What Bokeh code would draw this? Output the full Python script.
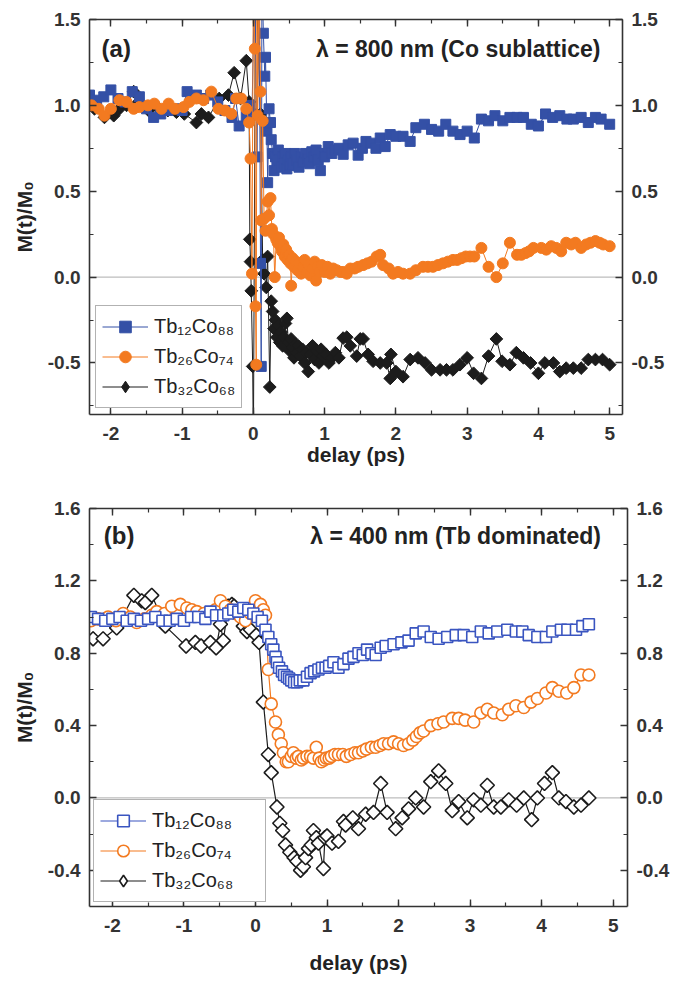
import math
from bokeh.plotting import figure
from bokeh.models import (LinearAxis, SingleIntervalTicker, PrintfTickFormatter, Span, Label,
                          Legend, LegendItem, Range1d, CustomLabelingPolicy)
from bokeh.layouts import column
from bokeh.embed import file_html
from bokeh.resources import INLINE

FONT = "Liberation Sans"

# ---------------- data: panel (a) lambda = 800 nm ----------------
a_tb12co88 = [(-2.3, 1.06), (-2.2, 1.03), (-2.1, 1.05), (-2.0, 1.09), (-1.9, 1.04), (-1.8, 1.02), (-1.7, 1.08),
              (-1.6, 1.05), (-1.5, 0.98), (-1.4, 0.93), (-1.3, 0.95), (-1.2, 0.97), (-1.1, 0.98), (-1.0, 0.97),
              (-0.93, 1.08), (-0.8, 1.06), (-0.7, 1.04), (-0.6, 1.06), (-0.5, 1.02), (-0.4, 0.97), (-0.3, 0.93),
              (-0.25, 1.04), (-0.2, 0.88), (-0.1, 0.94), (-0.05, 1.0), (-0.02, 0.95), (0.02, 1.8), (0.05, 0.7),
              (0.08, 1.8), (0.1, 0.08), (0.11, -0.52), (0.12, 1.8), (0.14, 1.42), (0.16, 1.17), (0.17, 1.28),
              (0.19, 0.85), (0.2, 0.55), (0.22, 0.98), (0.24, 0.9), (0.25, 0.8), (0.27, 0.72), (0.29, 0.62),
              (0.31, 0.7), (0.33, 0.66), (0.35, 0.74), (0.37, 0.68), (0.39, 0.64), (0.41, 0.7), (0.43, 0.66),
              (0.45, 0.72), (0.47, 0.63), (0.49, 0.68), (0.51, 0.65), (0.53, 0.7), (0.55, 0.66), (0.58, 0.72),
              (0.61, 0.68), (0.64, 0.64), (0.67, 0.7), (0.7, 0.67), (0.73, 0.72), (0.76, 0.69), (0.79, 0.66),
              (0.82, 0.73), (0.85, 0.7), (0.88, 0.74), (0.91, 0.68), (0.94, 0.62), (0.97, 0.72), (1.0, 0.7),
              (1.05, 0.76), (1.1, 0.72), (1.15, 0.74), (1.2, 0.75), (1.26, 0.715), (1.33, 0.77), (1.4, 0.78),
              (1.47, 0.71), (1.53, 0.75), (1.58, 0.79), (1.65, 0.78), (1.72, 0.75), (1.78, 0.81), (1.85, 0.76),
              (1.92, 0.83), (2.0, 0.82), (2.1, 0.82), (2.2, 0.79), (2.28, 0.87), (2.4, 0.89), (2.5, 0.86),
              (2.6, 0.85), (2.7, 0.89), (2.8, 0.85), (2.9, 0.83), (3.0, 0.85), (3.1, 0.81), (3.2, 0.92),
              (3.3, 0.91), (3.39, 0.94), (3.5, 0.91), (3.6, 0.93), (3.7, 0.93), (3.79, 0.93), (3.9, 0.89),
              (4.0, 0.88), (4.1, 0.95), (4.2, 0.93), (4.3, 0.94), (4.4, 0.92), (4.49, 0.92), (4.6, 0.93),
              (4.7, 0.9), (4.8, 0.93), (4.88, 0.92), (5.0, 0.89)]

a_tb26co74 = [(-2.27, 1.0), (-2.17, 0.98), (-2.09, 0.94), (-2.0, 0.98), (-1.88, 1.03), (-1.78, 1.02), (-1.68, 0.98),
              (-1.6, 0.99), (-1.48, 1.0), (-1.39, 1.01), (-1.29, 0.98), (-1.19, 1.01), (-1.1, 0.98), (-0.98, 0.99),
              (-0.9, 1.02), (-0.8, 1.04), (-0.7, 1.03), (-0.59, 1.08), (-0.49, 0.98), (-0.4, 0.97), (-0.31, 0.95),
              (-0.24, 1.04), (-0.17, 1.04), (-0.1, 0.98), (-0.06, 0.9), (-0.04, 0.69), (-0.02, 0.02), (0.0, 1.8),
              (0.02, 1.33), (0.03, -0.17), (0.04, -0.51), (0.05, 1.8), (0.06, 0.94), (0.08, 1.8), (0.1, 1.08),
              (0.11, 0.33), (0.13, 0.91), (0.15, 0.34), (0.17, 0.27), (0.2, 0.44), (0.22, 0.36), (0.24, 0.46),
              (0.26, 0.28), (0.28, 0.25), (0.3, 0.0), (0.32, 0.22), (0.34, 0.2), (0.36, 0.23), (0.38, 0.18),
              (0.4, 0.15), (0.42, 0.19), (0.44, 0.12), (0.46, 0.16), (0.48, 0.1), (0.5, 0.13), (0.52, 0.08),
              (0.53, -0.05), (0.55, 0.11), (0.57, 0.06), (0.6, 0.09), (0.62, 0.04), (0.64, 0.08), (0.67, 0.02),
              (0.7, 0.06), (0.72, 0.1), (0.75, 0.03), (0.78, 0.07), (0.8, 0.01), (0.83, 0.05), (0.86, 0.09),
              (0.88, -0.02), (0.9, 0.06), (0.93, 0.03), (0.96, 0.07), (1.0, 0.03), (1.04, 0.06), (1.08, 0.02),
              (1.12, 0.05), (1.17, 0.04), (1.22, 0.03), (1.26, 0.03), (1.31, 0.02), (1.36, 0.05), (1.42, 0.05),
              (1.47, 0.06), (1.54, 0.07), (1.6, 0.08), (1.66, 0.09), (1.73, 0.12), (1.78, 0.13), (1.82, 0.07),
              (1.9, 0.05), (1.96, 0.02), (2.03, 0.03), (2.1, 0.02), (2.2, 0.02), (2.28, 0.04), (2.38, 0.06),
              (2.45, 0.06), (2.52, 0.06), (2.59, 0.07), (2.66, 0.08), (2.73, 0.09), (2.8, 0.1), (2.86, 0.1),
              (2.92, 0.11), (2.98, 0.12), (3.04, 0.12), (3.1, 0.12), (3.2, 0.17), (3.3, 0.06), (3.41, 0.0),
              (3.5, 0.08), (3.6, 0.2), (3.7, 0.13), (3.76, 0.13), (3.82, 0.14), (3.87, 0.15), (3.93, 0.17),
              (4.04, 0.17), (4.11, 0.16), (4.18, 0.18), (4.25, 0.17), (4.32, 0.15), (4.39, 0.2), (4.46, 0.19),
              (4.52, 0.2), (4.6, 0.17), (4.67, 0.19), (4.73, 0.2), (4.8, 0.21), (4.86, 0.2), (4.91, 0.19),
              (5.0, 0.18)]

a_tb32co68 = [(-2.3, 1.0), (-2.23, 0.98), (-2.09, 0.93), (-1.96, 0.94), (-1.88, 0.98), (-1.78, 1.0), (-1.68, 1.08),
              (-1.61, 1.02), (-1.47, 0.97), (-1.32, 0.98), (-1.2, 0.97), (-1.08, 0.96), (-0.97, 0.95), (-0.8, 0.9),
              (-0.73, 0.95), (-0.63, 0.93), (-0.48, 1.04), (-0.35, 1.06), (-0.27, 1.19), (-0.18, 1.04),
              (-0.1, 1.26), (-0.06, 1.02), (-0.05, 0.22), (-0.04, 0.09), (-0.03, -0.08), (-0.01, -0.52),
              (0.0, -1.0), (0.03, 1.8), (0.1, 0.95), (0.13, 0.1), (0.15, 0.02), (0.18, -0.06), (0.2, 0.12),
              (0.23, -0.64), (0.25, -0.14), (0.27, -0.2), (0.29, -0.3), (0.31, -0.25), (0.33, -0.35),
              (0.35, -0.28), (0.37, -0.38), (0.39, -0.32), (0.41, -0.4), (0.43, -0.35), (0.45, -0.27),
              (0.47, -0.24), (0.49, -0.38), (0.51, -0.43), (0.53, -0.36), (0.55, -0.41), (0.57, -0.47),
              (0.59, -0.39), (0.61, -0.44), (0.63, -0.4), (0.66, -0.46), (0.69, -0.42), (0.72, -0.5),
              (0.74, -0.44), (0.77, -0.55), (0.8, -0.45), (0.83, -0.4), (0.86, -0.48), (0.89, -0.43),
              (0.92, -0.5), (0.95, -0.42), (0.98, -0.46), (1.02, -0.45), (1.06, -0.5), (1.1, -0.47),
              (1.15, -0.44), (1.2, -0.47), (1.26, -0.355), (1.31, -0.35), (1.36, -0.4), (1.45, -0.46),
              (1.5, -0.36), (1.54, -0.36), (1.61, -0.45), (1.68, -0.49), (1.78, -0.5), (1.87, -0.5),
              (1.92, -0.59), (1.93, -0.45), (2.0, -0.55), (2.1, -0.58), (2.2, -0.48), (2.31, -0.47),
              (2.41, -0.5), (2.5, -0.54), (2.62, -0.54), (2.71, -0.54), (2.8, -0.54), (2.9, -0.51),
              (3.0, -0.47), (3.09, -0.56), (3.2, -0.59), (3.3, -0.46), (3.41, -0.36), (3.49, -0.49),
              (3.6, -0.51), (3.69, -0.44), (3.79, -0.47), (3.89, -0.5), (4.0, -0.56), (4.09, -0.5),
              (4.21, -0.5), (4.3, -0.55), (4.39, -0.53), (4.49, -0.53), (4.6, -0.53), (4.7, -0.48),
              (4.8, -0.48), (4.9, -0.48), (5.0, -0.51)]

# ---------------- data: panel (b) lambda = 400 nm ----------------
b_tb12co88 = [(-2.3, 1.0), (-2.2, 0.99), (-2.1, 0.98), (-2.0, 0.99), (-1.9, 1.0), (-1.8, 0.98), (-1.7, 0.99),
              (-1.6, 0.98), (-1.5, 0.99), (-1.4, 1.0), (-1.3, 0.98), (-1.2, 0.98), (-1.1, 0.99), (-1.0, 0.98),
              (-0.9, 1.0), (-0.8, 1.0), (-0.7, 0.99), (-0.63, 1.03), (-0.55, 1.01), (-0.45, 1.01), (-0.38, 1.02),
              (-0.31, 1.04), (-0.24, 1.03), (-0.17, 1.05), (-0.1, 1.04), (-0.03, 1.02), (0.03, 1.0), (0.09, 0.98),
              (0.14, 0.93), (0.18, 0.89), (0.22, 0.85), (0.25, 0.82), (0.28, 0.78), (0.3, 0.75), (0.33, 0.72),
              (0.37, 0.7), (0.4, 0.68), (0.44, 0.67), (0.47, 0.66), (0.5, 0.65), (0.54, 0.64), (0.58, 0.64),
              (0.62, 0.65), (0.67, 0.65), (0.72, 0.67), (0.77, 0.69), (0.82, 0.7), (0.88, 0.71), (0.93, 0.72),
              (0.98, 0.72), (1.03, 0.73), (1.09, 0.75), (1.16, 0.72), (1.23, 0.74), (1.3, 0.77), (1.37, 0.78),
              (1.44, 0.8), (1.5, 0.79), (1.56, 0.82), (1.62, 0.8), (1.68, 0.79), (1.75, 0.83), (1.82, 0.84),
              (1.93, 0.85), (2.04, 0.86), (2.14, 0.87), (2.24, 0.91), (2.35, 0.92), (2.45, 0.89), (2.56, 0.88),
              (2.68, 0.89), (2.8, 0.9), (2.91, 0.9), (3.03, 0.89), (3.15, 0.92), (3.26, 0.91), (3.38, 0.92),
              (3.52, 0.93), (3.64, 0.92), (3.73, 0.92), (3.82, 0.9), (3.94, 0.89), (4.06, 0.89), (4.15, 0.92),
              (4.27, 0.93), (4.36, 0.93), (4.48, 0.93), (4.57, 0.95), (4.66, 0.96)]

b_tb26co74 = [(-2.3, 0.98), (-2.2, 0.99), (-2.06, 1.0), (-1.95, 0.98), (-1.85, 1.02), (-1.75, 1.0), (-1.66, 0.97),
              (-1.55, 0.99), (-1.45, 1.01), (-1.38, 1.03), (-1.27, 1.02), (-1.17, 1.06), (-1.05, 1.07),
              (-0.96, 1.05), (-0.89, 1.04), (-0.82, 1.03), (-0.72, 1.02), (-0.63, 1.02), (-0.56, 1.04),
              (-0.49, 1.09), (-0.42, 1.06), (-0.35, 1.04), (-0.28, 1.02), (-0.21, 1.0), (-0.14, 0.98),
              (-0.07, 1.02), (0.0, 1.09), (0.07, 1.07), (0.11, 1.04), (0.14, 1.01), (0.18, 0.71), (0.22, 0.52),
              (0.28, 0.42), (0.32, 0.35), (0.36, 0.3), (0.39, 0.25), (0.43, 0.2), (0.46, 0.2), (0.5, 0.23),
              (0.53, 0.25), (0.57, 0.22), (0.6, 0.23), (0.64, 0.21), (0.67, 0.22), (0.72, 0.23), (0.77, 0.23),
              (0.81, 0.22), (0.85, 0.28), (0.89, 0.22), (0.92, 0.2), (0.96, 0.21), (0.99, 0.22), (1.03, 0.22),
              (1.06, 0.23), (1.11, 0.24), (1.16, 0.24), (1.22, 0.24), (1.27, 0.23), (1.33, 0.24), (1.39, 0.25),
              (1.44, 0.25), (1.5, 0.26), (1.55, 0.27), (1.62, 0.28), (1.68, 0.28), (1.74, 0.29), (1.79, 0.3),
              (1.86, 0.3), (1.93, 0.31), (2.0, 0.3), (2.07, 0.29), (2.14, 0.3), (2.2, 0.32), (2.25, 0.34),
              (2.3, 0.36), (2.35, 0.37), (2.45, 0.4), (2.55, 0.41), (2.63, 0.42), (2.75, 0.44), (2.84, 0.44),
              (2.93, 0.43), (3.05, 0.42), (3.15, 0.47), (3.24, 0.49), (3.33, 0.47), (3.45, 0.46), (3.54, 0.49),
              (3.64, 0.51), (3.75, 0.5), (3.85, 0.53), (3.94, 0.55), (4.06, 0.58), (4.15, 0.61), (4.24, 0.59),
              (4.35, 0.58), (4.45, 0.61), (4.55, 0.68), (4.66, 0.68)]

b_tb32co68 = [(-2.27, 0.88), (-2.13, 0.88), (-1.94, 0.94), (-1.7, 1.12), (-1.59, 1.09), (-1.54, 1.08), (-1.45, 1.12),
              (-1.26, 0.95), (-0.97, 0.84), (-0.84, 0.86), (-0.76, 0.84), (-0.63, 0.86), (-0.55, 0.83),
              (-0.49, 0.96), (-0.45, 0.87), (-0.38, 1.06), (-0.33, 1.07), (-0.3, 1.06), (-0.17, 0.95),
              (-0.12, 0.92), (-0.07, 0.93), (0.01, 0.9), (0.05, 0.86), (0.11, 0.53), (0.18, 0.24), (0.22, 0.14),
              (0.3, -0.05), (0.34, -0.14), (0.38, -0.18), (0.42, -0.26), (0.48, -0.3), (0.54, -0.33),
              (0.58, -0.35), (0.63, -0.4), (0.67, -0.38), (0.7, -0.33), (0.74, -0.28), (0.78, -0.26),
              (0.81, -0.18), (0.85, -0.22), (0.88, -0.25), (0.95, -0.39), (0.97, -0.22), (1.0, -0.21),
              (1.07, -0.25), (1.16, -0.24), (1.23, -0.13), (1.26, -0.15), (1.36, -0.11), (1.44, -0.17),
              (1.54, -0.09), (1.65, -0.08), (1.75, 0.08), (1.84, -0.08), (1.96, -0.17), (2.05, -0.11),
              (2.14, -0.06), (2.24, 0.0), (2.35, -0.05), (2.45, 0.09), (2.56, 0.15), (2.66, 0.08), (2.75, -0.07),
              (2.84, -0.02), (2.96, -0.11), (3.05, -0.01), (3.15, -0.04), (3.24, 0.07), (3.33, -0.05),
              (3.43, -0.05), (3.54, -0.01), (3.65, -0.04), (3.75, 0.0), (3.86, -0.12), (3.94, 0.0), (4.04, 0.08),
              (4.15, 0.14), (4.24, 0.0), (4.34, -0.02), (4.45, -0.05), (4.55, -0.04), (4.66, 0.0)]

series_labels = ["Tb\u2081\u2082Co\u2088\u2088", "Tb\u2082\u2086Co\u2087\u2084", "Tb\u2083\u2082Co\u2086\u2088"]
x_ticks_interval = 1
y_ticks_interval_a = 0.5
y_ticks_interval_b = 0.4

BLUE = "#3450A6"
ORANGE = "#F37A20"
BLACK = "#1C1C1C"
AXC = "#333333"

HIDE_ALL = CustomLabelingPolicy(code="for (const i of indices) indices.unset(i)")


def style_axis(ax, interval, fmt, labels=True, label_text=None, label_standoff=8):
    ax.ticker = SingleIntervalTicker(interval=interval, num_minor_ticks=2)
    ax.formatter = PrintfTickFormatter(format=fmt)
    ax.axis_line_color = AXC
    ax.axis_line_width = 1.6
    ax.major_tick_line_color = AXC
    ax.major_tick_line_width = 1.4
    ax.minor_tick_line_color = AXC
    ax.minor_tick_line_width = 1.2
    ax.major_tick_in = 7
    ax.major_tick_out = 0
    ax.minor_tick_in = 4
    ax.minor_tick_out = 0
    ax.major_label_text_font = FONT
    ax.major_label_text_font_style = "bold"
    ax.major_label_text_color = AXC
    ax.major_label_text_font_size = "19px"
    if labels:
        ax.major_label_standoff = 9
    else:
        ax.major_label_policy = HIDE_ALL
        ax.major_label_standoff = 0
    if label_text:
        ax.axis_label = label_text
        ax.axis_label_text_font = FONT
        ax.axis_label_text_font_style = "bold"
        ax.axis_label_text_font_size = "21px"
        ax.axis_label_text_color = "#222222"
        ax.axis_label_standoff = label_standoff


def make_panel(xr, yr, fw, fh, bl, br, bt, bb, yint, series, styles, tag, title, ty, tx_left, tx_right,
               label_width, x_lab_standoff, legend_margin):
    p = figure(x_range=Range1d(*xr), y_range=Range1d(*yr), frame_width=fw, frame_height=fh,
               min_border_left=bl, min_border_right=br, min_border_top=bt, min_border_bottom=bb,
               output_backend="svg", toolbar_location=None)
    p.grid.visible = False
    p.outline_line_color = None
    p.background_fill_color = "white"
    p.border_fill_color = "white"

    style_axis(p.below[0], x_ticks_interval, "%d", True, "delay (ps)", x_lab_standoff)
    p.below[0].major_label_standoff = 12
    style_axis(p.left[0], yint, "%.1f", True, "M(t)/M\u2080", 9)
    top = LinearAxis()
    right = LinearAxis()
    p.add_layout(top, "above")
    p.add_layout(right, "right")
    style_axis(top, x_ticks_interval, "%d", False)
    style_axis(right, yint, "%.1f", True)

    p.add_layout(Span(location=0, dimension="width", line_color="#BDBDBD", line_width=1.3, level="underlay"))

    items = {}
    for idx in styles["order"]:
        data = series[idx]
        xs = [d[0] for d in data]
        ys = [d[1] for d in data]
        st = styles["st"][idx]
        if st.get("angle"):
            # diamond drawn only for the legend key; hidden under the first rotated square
            dr = p.scatter(xs[:1], ys[:1], marker="diamond", size=st["size"] * 1.3,
                           fill_color=st["fill"], line_color=st["color"], line_width=styles["mlw"])
        lr = p.line(xs, ys, line_color=st["color"], line_width=styles["lw"])
        sr = p.scatter(xs, ys, marker=st["marker"], size=st["size"], angle=st.get("angle", 0.0),
                       fill_color=st["fill"], line_color=st["color"], line_width=styles["mlw"])
        legend_rs = [lr, dr] if st.get("angle") else [lr, sr]
        items[idx] = LegendItem(label=series_labels[idx], renderers=legend_rs)

    legend = Legend(items=[items[0], items[1], items[2]], location="bottom_left",
                    label_text_font=FONT, label_text_font_size="20px", label_text_color="#222222",
                    border_line_color="#666666", border_line_width=1, background_fill_color="white",
                    background_fill_alpha=1.0, padding=6, spacing=1, margin=legend_margin, glyph_width=46,
                    glyph_height=29, label_height=29, label_standoff=6, label_width=label_width)
    p.add_layout(legend)

    p.add_layout(Label(x=tx_left, y=ty, text=tag, text_font=FONT, text_font_style="bold",
                       text_font_size="24px", text_baseline="middle", text_color="#222222"))
    p.add_layout(Label(x=tx_right, y=ty, text=title, text_font=FONT, text_font_style="bold",
                       text_font_size="23px", text_baseline="middle", text_align="right",
                       text_color="#222222"))
    return p


styles_a = {
    "order": [2, 0, 1], "lw": 1.0, "mlw": 1.0,
    "st": {
        0: {"color": BLUE, "fill": BLUE, "marker": "square", "size": 10},
        1: {"color": ORANGE, "fill": ORANGE, "marker": "circle", "size": 11},
        2: {"color": BLACK, "fill": BLACK, "marker": "square", "size": 9, "angle": math.pi / 4},
    },
}
styles_b = {
    "order": [2, 1, 0], "lw": 1.2, "mlw": 1.6,
    "st": {
        0: {"color": "#3A55C0", "fill": "white", "marker": "square", "size": 11},
        1: {"color": ORANGE, "fill": "white", "marker": "circle", "size": 12},
        2: {"color": BLACK, "fill": "white", "marker": "square", "size": 10, "angle": math.pi / 4},
    },
}

pa = make_panel((-2.3, 5.18), (-0.8, 1.5), 533, 395, 89, 60, 19, 74, y_ticks_interval_a,
                [a_tb12co88, a_tb26co74, a_tb32co68], styles_a, "(a)",
                "\u03bb = 800 nm (Co sublattice)", 1.33, -2.13, 4.87, 58, 0, 6)
pb = make_panel((-2.32, 5.2), (-0.6, 1.6001), 538, 398, 87, 57, 20, 74, y_ticks_interval_b,
                [b_tb12co88, b_tb26co74, b_tb32co68], styles_b, "(b)",
                "\u03bb = 400 nm (Tb dominated)", 1.45, -2.12, 4.83, 107, 16, 4)

layout = column(pa, pb, spacing=0)
open("out.html", "w").write(file_html(layout, INLINE))
